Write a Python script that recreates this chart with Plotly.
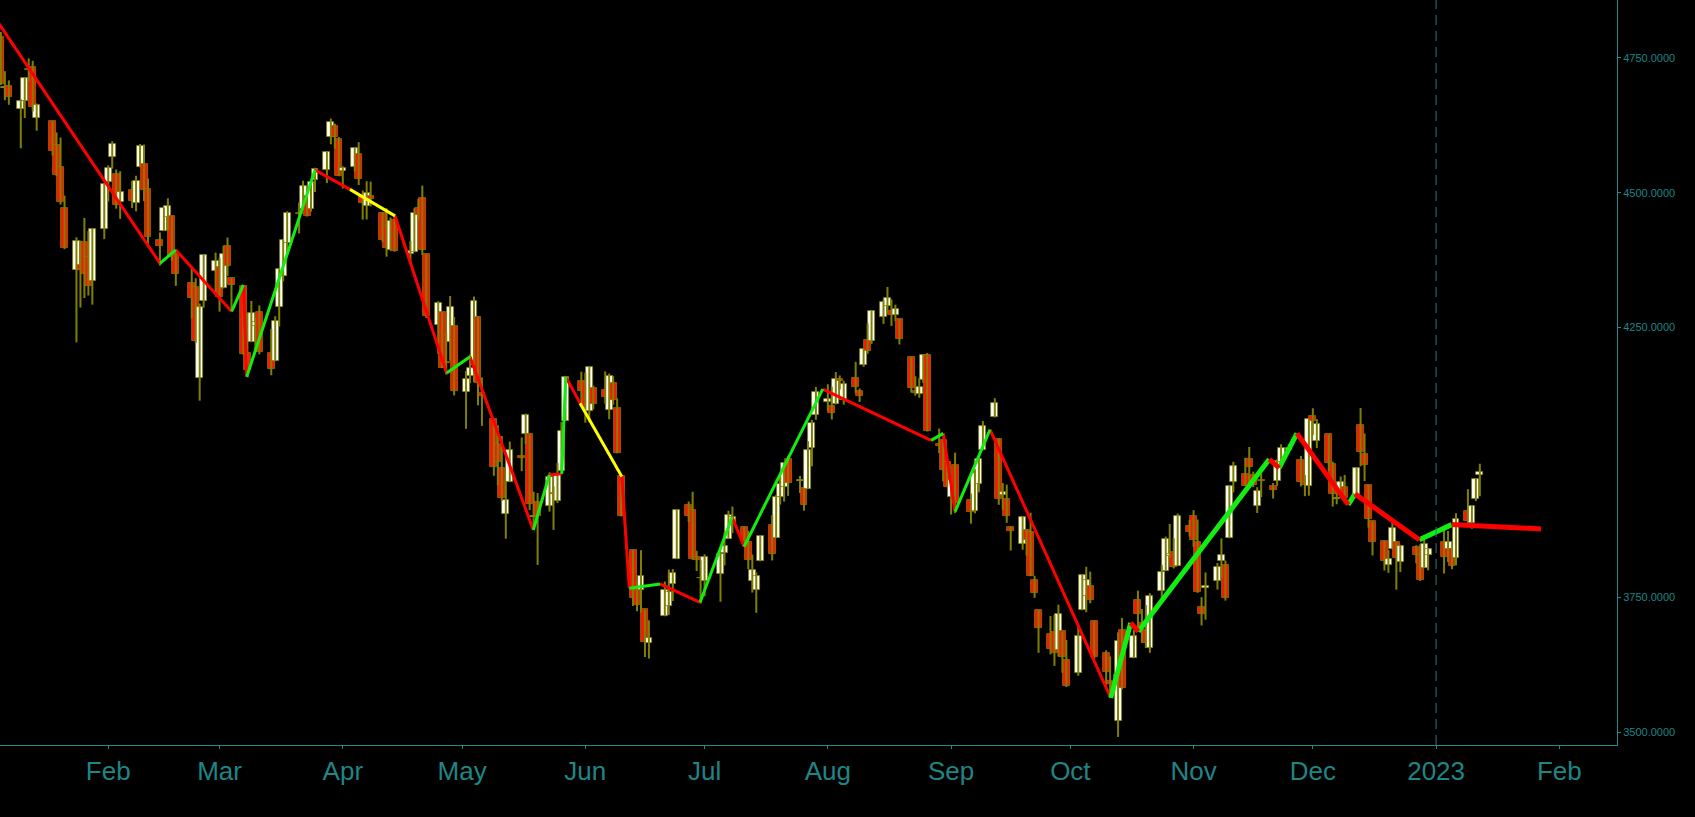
import plotly.graph_objects as go

# ---------------- daily OHLC (S&P 500) ----------------
dates = [
    "2022-01-03","2022-01-04","2022-01-05","2022-01-06","2022-01-07","2022-01-10","2022-01-11","2022-01-12","2022-01-13","2022-01-14",
    "2022-01-18","2022-01-19","2022-01-20","2022-01-21","2022-01-24","2022-01-25","2022-01-26","2022-01-27","2022-01-28","2022-01-31",
    "2022-02-01","2022-02-02","2022-02-03","2022-02-04","2022-02-07","2022-02-08","2022-02-09","2022-02-10","2022-02-11","2022-02-14",
    "2022-02-15","2022-02-16","2022-02-17","2022-02-18","2022-02-22","2022-02-23","2022-02-24","2022-02-25","2022-02-28",
    "2022-03-01","2022-03-02","2022-03-03","2022-03-04","2022-03-07","2022-03-08","2022-03-09","2022-03-10","2022-03-11","2022-03-14",
    "2022-03-15","2022-03-16","2022-03-17","2022-03-18","2022-03-21","2022-03-22","2022-03-23","2022-03-24","2022-03-25","2022-03-28",
    "2022-03-29","2022-03-30","2022-03-31",
    "2022-04-01","2022-04-04","2022-04-05","2022-04-06","2022-04-07","2022-04-08","2022-04-11","2022-04-12","2022-04-13","2022-04-14",
    "2022-04-18","2022-04-19","2022-04-20","2022-04-21","2022-04-22","2022-04-25","2022-04-26","2022-04-27","2022-04-28","2022-04-29",
    "2022-05-02","2022-05-03","2022-05-04","2022-05-05","2022-05-06","2022-05-09","2022-05-10","2022-05-11","2022-05-12","2022-05-13",
    "2022-05-16","2022-05-17","2022-05-18","2022-05-19","2022-05-20","2022-05-23","2022-05-24","2022-05-25","2022-05-26","2022-05-27",
    "2022-05-31",
    "2022-06-01","2022-06-02","2022-06-03","2022-06-06","2022-06-07","2022-06-08","2022-06-09","2022-06-10","2022-06-13","2022-06-14",
    "2022-06-15","2022-06-16","2022-06-17","2022-06-21","2022-06-22","2022-06-23","2022-06-24","2022-06-27","2022-06-28","2022-06-29",
    "2022-06-30",
    "2022-07-01","2022-07-05","2022-07-06","2022-07-07","2022-07-08","2022-07-11","2022-07-12","2022-07-13","2022-07-14","2022-07-15",
    "2022-07-18","2022-07-19","2022-07-20","2022-07-21","2022-07-22","2022-07-25","2022-07-26","2022-07-27","2022-07-28","2022-07-29",
    "2022-08-01","2022-08-02","2022-08-03","2022-08-04","2022-08-05","2022-08-08","2022-08-09","2022-08-10","2022-08-11","2022-08-12",
    "2022-08-15","2022-08-16","2022-08-17","2022-08-18","2022-08-19","2022-08-22","2022-08-23","2022-08-24","2022-08-25","2022-08-26",
    "2022-08-29","2022-08-30","2022-08-31",
    "2022-09-01","2022-09-02","2022-09-06","2022-09-07","2022-09-08","2022-09-09","2022-09-12","2022-09-13","2022-09-14","2022-09-15",
    "2022-09-16","2022-09-19","2022-09-20","2022-09-21","2022-09-22","2022-09-23","2022-09-26","2022-09-27","2022-09-28","2022-09-29",
    "2022-09-30",
    "2022-10-03","2022-10-04","2022-10-05","2022-10-06","2022-10-07","2022-10-10","2022-10-11","2022-10-12","2022-10-13","2022-10-14",
    "2022-10-17","2022-10-18","2022-10-19","2022-10-20","2022-10-21","2022-10-24","2022-10-25","2022-10-26","2022-10-27","2022-10-28",
    "2022-10-31",
    "2022-11-01","2022-11-02","2022-11-03","2022-11-04","2022-11-07","2022-11-08","2022-11-09","2022-11-10","2022-11-11","2022-11-14",
    "2022-11-15","2022-11-16","2022-11-17","2022-11-18","2022-11-21","2022-11-22","2022-11-23","2022-11-25","2022-11-28","2022-11-29",
    "2022-11-30",
    "2022-12-01","2022-12-02","2022-12-05","2022-12-06","2022-12-07","2022-12-08","2022-12-09","2022-12-12","2022-12-13","2022-12-14",
    "2022-12-15","2022-12-16","2022-12-19","2022-12-20","2022-12-21","2022-12-22","2022-12-23","2022-12-27","2022-12-28","2022-12-29",
    "2022-12-30",
    "2023-01-03","2023-01-04","2023-01-05","2023-01-06","2023-01-09","2023-01-10","2023-01-11","2023-01-12",
]

opens = [
    4778.14,4804.51,4787.99,4693.39,4697.66,4655.34,4669.14,4728.59,4733.56,4637.99,
    4632.24,4588.03,4547.35,4471.38,4356.32,4366.64,4408.43,4380.58,4336.19,4431.79,
    4519.57,4566.39,4535.41,4482.79,4505.75,4480.02,4547.00,4553.24,4506.27,4412.61,
    4429.28,4455.75,4456.06,4384.57,4332.74,4324.93,4155.77,4298.38,4354.17,
    4363.14,4322.56,4401.31,4342.12,4327.01,4202.66,4223.10,4252.55,4279.50,4202.75,
    4188.82,4288.14,4345.11,4407.34,4462.40,4469.10,4493.10,4469.98,4522.91,4541.09,
    4602.86,4624.20,4599.02,
    4540.32,4547.97,4572.45,4494.17,4474.65,4494.15,4462.64,4437.59,4394.30,4449.12,
    4385.63,4390.63,4472.26,4489.17,4385.83,4255.34,4278.14,4186.52,4222.58,4253.75,
    4130.61,4159.78,4181.18,4270.43,4128.17,4081.27,4035.18,3990.08,3903.95,3963.90,
    4013.02,4052.00,4051.98,3899.00,3927.76,3919.42,3942.94,3929.59,3984.60,4077.43,
    4151.09,
    4149.78,4095.41,4137.57,4134.72,4096.47,4147.12,4101.65,3974.39,3838.15,3763.52,
    3764.05,3728.18,3665.90,3715.31,3733.89,3774.71,3821.75,3920.76,3913.00,3825.09,
    3785.99,
    3781.00,3792.61,3831.98,3858.85,3888.26,3880.94,3851.95,3779.67,3763.99,3818.00,
    3883.79,3860.73,3935.32,3955.47,4007.36,3965.72,3953.22,3951.43,4026.13,4087.33,
    4112.38,4104.21,4107.78,4154.85,4115.87,4155.93,4133.11,4181.02,4227.40,4225.02,
    4269.37,4290.46,4280.40,4273.13,4266.31,4195.08,4133.09,4126.55,4153.26,4198.74,
    4034.58,4041.25,4000.67,
    3936.73,3994.66,3930.89,3909.43,3959.94,4022.94,4083.67,4044.41,3940.73,3932.41,
    3880.95,3849.91,3875.23,3871.40,3782.36,3727.14,3682.72,3686.44,3651.94,3687.01,
    3633.48,
    3609.78,3726.46,3753.25,3771.97,3706.74,3647.51,3595.86,3590.83,3520.37,3690.41,
    3638.65,3746.26,3703.11,3689.05,3657.10,3762.01,3799.44,3825.97,3834.69,3808.26,
    3881.85,
    3901.79,3852.90,3733.25,3766.98,3780.71,3817.02,3810.94,3859.89,3963.72,3977.97,
    4006.41,3976.82,3919.26,3966.39,3956.23,3965.51,4000.30,4023.34,4005.36,3964.19,
    3957.18,
    4087.14,4040.17,4052.02,3996.63,3933.28,3947.79,3954.17,3939.29,4069.38,4015.54,
    3958.37,3890.91,3853.79,3810.47,3839.49,3853.26,3815.11,3843.34,3829.56,3805.45,
    3829.06,
    3853.29,3840.36,3839.74,3823.37,3910.82,3888.57,3932.35,3977.57,
]

highs = [
    4796.64,4818.62,4797.70,4725.01,4707.95,4673.02,4714.13,4748.83,4744.13,4665.13,
    4632.24,4611.55,4602.11,4494.52,4417.35,4411.01,4453.23,4428.74,4432.72,4516.89,
    4550.49,4595.31,4542.88,4539.66,4521.86,4531.32,4590.03,4588.92,4526.33,4426.22,
    4472.77,4489.55,4456.06,4394.60,4362.12,4341.51,4294.73,4385.34,4388.84,
    4378.45,4401.48,4416.78,4342.12,4327.01,4276.94,4299.40,4268.28,4291.01,4247.57,
    4271.05,4358.90,4412.67,4465.40,4481.75,4522.00,4501.07,4520.58,4546.03,4575.65,
    4637.30,4627.77,4603.07,
    4548.70,4583.50,4593.45,4503.94,4521.16,4520.41,4464.35,4471.00,4453.92,4460.46,
    4410.31,4471.03,4488.29,4512.94,4385.83,4299.02,4278.14,4240.71,4308.45,4269.68,
    4169.81,4200.10,4307.66,4270.43,4157.69,4081.27,4068.82,4049.09,3964.80,4038.88,
    4046.46,4090.72,4051.98,3945.96,3943.42,3981.88,3955.68,3999.33,4075.14,4158.49,
    4168.34,
    4166.54,4177.51,4142.67,4168.78,4164.86,4160.14,4119.10,3974.39,3838.15,3778.18,
    3837.56,3728.18,3707.71,3779.65,3801.79,3802.58,3913.65,3927.72,3945.86,3836.50,
    3818.99,
    3829.82,3832.19,3870.91,3910.63,3918.50,3880.94,3873.41,3829.44,3796.41,3863.62,
    3902.44,3939.81,3974.13,3999.29,4012.44,3975.30,3953.22,4039.56,4078.95,4140.15,
    4144.95,4140.47,4167.66,4161.29,4151.58,4186.62,4137.30,4211.03,4257.91,4280.47,
    4301.79,4325.28,4302.18,4292.53,4266.31,4195.08,4159.77,4156.56,4200.54,4203.04,
    4062.99,4044.98,4015.37,
    3970.23,4018.43,3942.55,3987.89,4010.50,4076.81,4119.28,4044.41,3961.94,3959.14,
    3880.95,3900.45,3876.01,3907.07,3790.20,3727.14,3715.67,3717.53,3736.74,3687.01,
    3671.44,
    3698.35,3791.92,3806.91,3797.93,3706.74,3652.17,3640.66,3608.34,3685.41,3712.00,
    3689.73,3762.79,3728.58,3736.00,3757.89,3810.74,3862.85,3886.15,3859.95,3905.42,
    3893.73,
    3911.79,3894.44,3750.59,3796.34,3813.95,3859.40,3818.20,3958.33,4001.48,4008.97,
    4028.84,3983.09,3954.33,3979.89,3962.00,4005.88,4033.78,4034.02,4012.27,3976.77,
    4080.11,
    4100.51,4080.48,4052.45,4001.51,3957.57,3974.19,3977.02,3990.71,4100.96,4053.76,
    3958.37,3890.91,3854.86,3838.24,3889.82,3853.26,3845.80,3846.65,3848.32,3858.19,
    3839.85,
    3878.46,3873.16,3839.74,3906.19,3950.57,3919.83,3970.07,3997.76,
]

lows = [
    4758.17,4774.27,4699.44,4671.26,4662.74,4582.24,4638.27,4706.71,4650.29,4614.75,
    4568.70,4530.20,4477.95,4395.34,4222.62,4287.11,4304.80,4309.50,4292.46,4414.02,
    4483.53,4544.32,4470.39,4451.50,4471.47,4465.40,4547.00,4484.31,4401.41,4364.84,
    4429.28,4429.68,4373.81,4327.22,4267.11,4221.51,4114.65,4286.83,4315.12,
    4279.54,4322.56,4345.56,4284.98,4199.85,4157.87,4223.10,4209.80,4200.49,4161.72,
    4187.90,4251.99,4335.65,4390.57,4424.30,4469.10,4455.81,4465.17,4501.07,4517.69,
    4589.66,4581.32,4530.41,
    4507.57,4539.21,4514.17,4450.04,4450.30,4474.60,4408.38,4381.34,4392.70,4390.77,
    4370.30,4390.63,4448.76,4384.47,4267.62,4200.82,4175.04,4162.90,4188.63,4124.28,
    4062.51,4147.08,4148.91,4106.01,4067.91,3975.48,3958.17,3928.82,3858.87,3963.90,
    3983.99,4033.93,3911.91,3876.58,3810.32,3909.04,3875.13,3925.03,3984.60,4077.43,
    4104.88,
    4073.85,4074.37,4098.67,4109.18,4080.19,4107.20,4017.17,3900.16,3734.30,3724.57,
    3722.30,3639.77,3636.87,3715.31,3717.69,3743.52,3821.75,3889.66,3820.14,3799.02,
    3738.67,
    3752.10,3742.06,3809.37,3858.85,3869.34,3847.22,3802.36,3759.07,3721.56,3817.18,
    3818.63,3860.73,3922.03,3927.64,3938.24,3943.46,3910.74,3951.43,3992.97,4079.22,
    4096.02,4079.81,4107.78,4135.42,4107.31,4128.97,4112.09,4177.26,4201.41,4219.78,
    4256.90,4277.77,4253.08,4261.98,4218.70,4129.86,4124.03,4119.97,4147.59,4057.66,
    4017.42,3965.21,3954.53,
    3903.65,3906.21,3886.75,3906.03,3944.81,4022.94,4083.67,3921.68,3912.55,3888.28,
    3837.08,3838.50,3827.54,3789.49,3749.45,3647.47,3644.76,3623.29,3640.61,3610.40,
    3584.13,
    3604.93,3726.46,3722.66,3739.22,3636.66,3588.10,3568.45,3573.86,3491.58,3579.68,
    3638.65,3686.53,3666.51,3656.44,3647.42,3741.65,3799.44,3824.07,3803.79,3808.26,
    3863.18,
    3843.80,3758.68,3698.15,3708.84,3764.70,3786.28,3744.22,3859.89,3944.82,3956.40,
    3953.17,3954.34,3906.54,3935.98,3933.34,3956.88,3998.66,4020.76,3955.77,3937.65,
    3938.58,
    4050.87,4026.63,3984.49,3918.39,3922.68,3935.83,3933.04,3935.30,3993.03,3965.65,
    3879.45,3827.91,3800.04,3795.62,3839.49,3764.49,3797.01,3813.22,3780.78,3805.45,
    3800.34,
    3794.33,3815.77,3802.42,3809.56,3890.42,3877.29,3928.54,3937.56,
]

closes = [
    4796.56,4793.54,4700.58,4696.05,4677.03,4670.29,4713.07,4726.35,4659.03,4662.85,
    4577.11,4532.76,4482.73,4397.94,4410.13,4356.45,4349.93,4326.51,4431.85,4515.55,
    4546.54,4589.38,4477.44,4500.53,4483.87,4521.54,4587.18,4504.08,4418.64,4401.67,
    4471.07,4475.01,4380.26,4348.87,4304.76,4225.50,4288.70,4384.65,4373.94,
    4306.26,4386.54,4363.49,4328.87,4201.09,4170.70,4277.88,4259.52,4204.31,4173.11,
    4262.45,4357.86,4411.67,4463.12,4461.18,4511.61,4456.24,4520.16,4543.06,4575.52,
    4631.60,4602.45,4530.41,
    4545.86,4582.64,4525.12,4481.15,4500.21,4488.28,4412.53,4397.45,4446.59,4392.59,
    4391.69,4462.21,4459.45,4393.66,4271.78,4296.12,4175.20,4183.96,4287.50,4131.93,
    4155.38,4175.48,4300.17,4146.87,4123.34,3991.24,4001.05,3935.18,3930.08,4023.89,
    4008.01,4088.85,3923.68,3900.79,3901.36,3973.75,3941.48,3978.73,4057.84,4158.24,
    4132.15,
    4101.23,4176.82,4108.54,4121.43,4160.68,4115.77,4017.82,3900.86,3749.63,3735.48,
    3789.99,3666.77,3674.84,3764.79,3759.89,3795.73,3911.74,3900.11,3821.55,3818.83,
    3785.38,
    3825.33,3831.39,3845.08,3902.62,3899.38,3854.43,3818.80,3801.78,3790.38,3863.16,
    3830.85,3936.69,3959.90,3998.95,3961.63,3966.84,3921.05,4023.61,4072.43,4130.29,
    4118.63,4091.19,4155.17,4151.94,4145.19,4140.06,4122.47,4210.24,4207.27,4280.15,
    4297.14,4305.20,4274.04,4283.74,4228.48,4137.99,4128.73,4140.77,4199.12,4057.66,
    4030.61,3986.16,3955.00,
    3966.85,3924.26,3908.19,3979.87,4006.18,4067.36,4110.41,3932.69,3946.01,3901.35,
    3873.33,3899.89,3855.93,3789.93,3757.99,3693.23,3655.04,3647.29,3719.04,3640.47,
    3585.62,
    3678.43,3790.93,3783.28,3744.52,3639.66,3612.39,3588.84,3577.03,3669.91,3583.07,
    3677.95,3719.98,3695.16,3665.78,3752.75,3797.34,3859.11,3830.60,3807.30,3901.06,
    3871.98,
    3856.10,3759.69,3719.89,3770.55,3806.80,3828.11,3748.57,3956.37,3992.93,3957.25,
    3991.73,3958.79,3946.56,3965.34,3949.94,4003.58,4027.26,4026.12,3963.94,3957.63,
    4080.11,
    4076.57,4071.70,3998.84,3941.26,3933.92,3963.51,3934.38,3990.56,4019.65,3995.32,
    3895.75,3852.36,3817.66,3821.62,3878.44,3822.39,3844.82,3829.25,3783.22,3849.28,
    3839.50,
    3824.14,3852.97,3808.10,3895.08,3892.09,3919.25,3969.61,3983.17,
]

# ---------------- zig-zag overlay (vertices) ----------------
zz_times = [
    "2022-01-04 00:00","2022-02-14 00:30","2022-02-17 23:00","2022-03-04 01:00","2022-03-07 00:00",
    "2022-03-07 20:00","2022-03-25 00:00","2022-04-02 19:00","2022-04-14 03:00","2022-04-27 03:00",
    "2022-05-03 00:00","2022-05-18 22:00","2022-05-22 22:30","2022-05-26 01:30","2022-05-27 01:40",
    "2022-05-30 16:00","2022-06-10 04:00","2022-06-12 01:40","2022-06-19 19:00","2022-06-29 20:30",
    "2022-07-07 23:00","2022-07-10 22:00","2022-07-30 17:00","2022-08-26 23:00","2022-08-30 01:00",
    "2022-09-02 00:00","2022-09-10 19:00","2022-10-11 04:00","2022-10-16 04:30","2022-10-18 02:30",
    "2022-11-20 01:00","2022-11-22 12:45","2022-11-27 00:00","2022-12-09 21:30","2022-12-11 14:00",
    "2022-12-27 18:30","2023-01-04 22:00","2023-01-27 09:00",
]
zz_values = [
    4818.6, 4369.0, 4394.0, 4280.0, 4329.0,
    4159.0, 4542.0, 4506.0, 4457.0, 4166.0,
    4196.0, 3875.0, 3977.0, 3979.0, 4159.0,
    4110.0, 3974.0, 3767.0, 3775.0, 3741.0,
    3899.0, 3844.0, 4136.0, 4041.0, 4054.0,
    3909.0, 4061.0, 3564.0, 3703.0, 3687.0,
    4006.0, 3990.0, 4054.0, 3922.0, 3942.0,
    3857.0, 3885.0, 3877.0,
]
# colour of each leg between consecutive vertices: r = falling, g = rising, y = falling (weak)
zz_legs = "rgrgrgryrgrgrgryrgrgrgrgrgrgrgrgrgrgr"
zz_thick_from = 27   # legs from this index on are drawn thicker

LEG_COLORS = {"r": "#ff0000", "g": "#11ee11", "y": "#ffff00"}
UP_FILL = "#ffffff"
DOWN_FILL = "#ff1408"
WICK = "#808000"
TEAL = "#1f8585"
AXIS = "#2a8a8a"
DAY_MS = 86400000

fig = go.Figure()

# wicks
wx, wy = [], []
for d, h, l in zip(dates, highs, lows):
    wx += [d, d, None]
    wy += [l, h, None]
fig.add_trace(go.Scatter(x=wx, y=wy, mode="lines", line=dict(color=WICK, width=2),
                         hoverinfo="skip", showlegend=False))

# bodies
body_base = [min(o, c) for o, c in zip(opens, closes)]
body_len = [max(abs(c - o), 1.5) for o, c in zip(opens, closes)]
body_col = [UP_FILL if c >= o else DOWN_FILL for o, c in zip(opens, closes)]
fig.add_trace(go.Bar(x=dates, y=body_len, base=body_base, width=1.75 * DAY_MS,
                     marker=dict(color=body_col, line=dict(color=WICK, width=0.8)),
                     showlegend=False,
                     customdata=list(zip(opens, highs, lows, closes)),
                     hovertemplate="O %{customdata[0]}<br>H %{customdata[1]}<br>L %{customdata[2]}<br>C %{customdata[3]}<extra></extra>"))

# zig-zag legs grouped by colour and thickness
groups = {}
for i, c in enumerate(zz_legs):
    w = 5 if i >= zz_thick_from else 3
    gx, gy = groups.setdefault((c, w), ([], []))
    gx += [zz_times[i], zz_times[i + 1], None]
    gy += [zz_values[i], zz_values[i + 1], None]
for (c, w), (gx, gy) in groups.items():
    fig.add_trace(go.Scatter(x=gx, y=gy, mode="lines", line=dict(color=LEG_COLORS[c], width=w),
                             hoverinfo="skip", showlegend=False))

month_ticks = ["2022-02-01","2022-03-01","2022-04-01","2022-05-01","2022-06-01","2022-07-01",
               "2022-08-01","2022-09-01","2022-10-01","2022-11-01","2022-12-01","2023-01-01","2023-02-01"]
month_labels = ["Feb","Mar","Apr","May","Jun","Jul","Aug","Sep","Oct","Nov","Dec","2023","Feb"]
y_ticks = [3500, 3750, 4250, 4500, 4750]

fig.add_shape(type="line", x0="2023-01-01", x1="2023-01-01", xref="x", y0=0, y1=1, yref="paper",
              line=dict(color="#2a7f7f", width=1, dash="10px,6px"))

fig.update_layout(
    width=1695, height=817,
    margin=dict(l=0, r=78, t=0, b=72),
    paper_bgcolor="black", plot_bgcolor="black",
    showlegend=False, bargap=0,
    xaxis=dict(type="date", range=["2022-01-04 18:33", "2023-02-15 12:00"],
               tickmode="array", tickvals=month_ticks, ticktext=month_labels,
               tickfont=dict(family="Liberation Sans", size=26, color=TEAL),
               showgrid=False, zeroline=False, showline=True, linecolor=AXIS, linewidth=1,
               ticks="outside", ticklen=3, tickcolor=AXIS, rangeslider=dict(visible=False)),
    yaxis=dict(side="right", range=[3476.7, 4856.9], tickmode="array", tickvals=y_ticks,
               tickformat=".4f", tickfont=dict(family="Liberation Sans", size=11, color=TEAL),
               showgrid=False, zeroline=False, showline=True, linecolor=AXIS, linewidth=1,
               ticks="outside", ticklen=3, tickcolor=AXIS),
)

fig.write_html("out.html", config={"displayModeBar": False},
               post_script="document.body.style.margin='0';document.body.style.overflow='hidden';")
